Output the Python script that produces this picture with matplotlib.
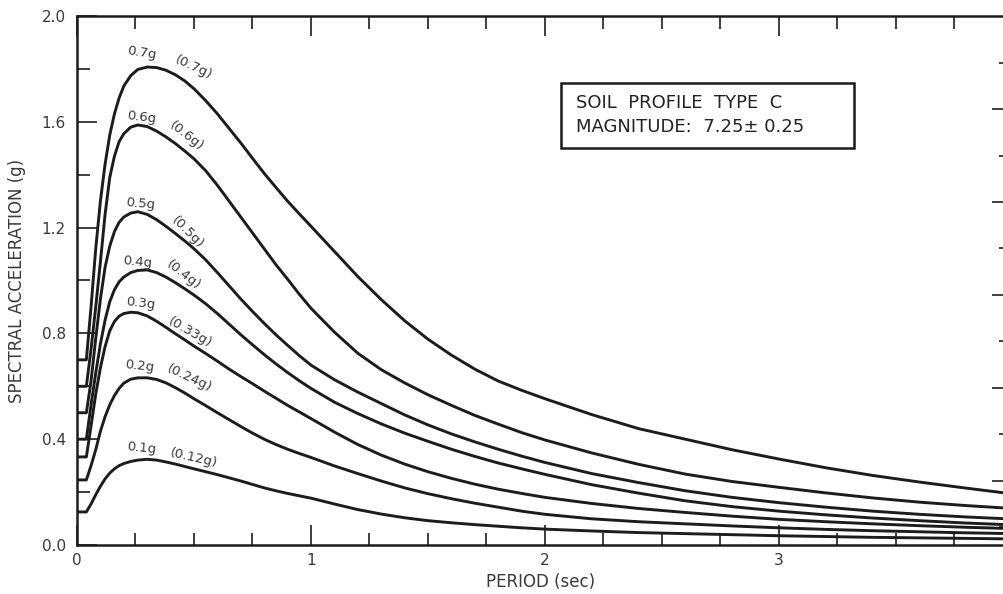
import matplotlib
matplotlib.use("Agg")
import matplotlib.pyplot as plt
from matplotlib.patches import Rectangle
from matplotlib.ticker import MultipleLocator, FixedLocator, NullFormatter

# ---------------- data ----------------
period = [0, 0.04, 0.06, 0.08, 0.1, 0.12, 0.14, 0.16, 0.18, 0.2, 0.23, 0.26, 0.3, 0.34,
          0.38, 0.42, 0.46, 0.5, 0.55, 0.6, 0.65, 0.7, 0.75, 0.8, 0.85, 0.9, 0.95, 1.0,
          1.1, 1.2, 1.3, 1.4, 1.5, 1.6, 1.7, 1.8, 1.9, 2.0, 2.2, 2.4, 2.6, 2.8, 3.0,
          3.2, 3.4, 3.6, 3.8, 4.0]

sa_070 = [0.70, 0.70, 0.90, 1.12, 1.30, 1.44, 1.55, 1.63, 1.69, 1.735, 1.775, 1.798, 1.807, 1.805,
          1.795, 1.778, 1.755, 1.725, 1.68, 1.63, 1.575, 1.52, 1.462, 1.405, 1.352, 1.30, 1.252, 1.205,
          1.11, 1.015, 0.928, 0.848, 0.778, 0.718, 0.665, 0.62, 0.585, 0.553, 0.493, 0.44, 0.40, 0.36, 0.325,
          0.292, 0.263, 0.238, 0.215, 0.193]
sa_060 = [0.60, 0.60, 0.74, 0.90, 1.07, 1.25, 1.39, 1.47, 1.525, 1.555, 1.58, 1.588, 1.582, 1.565,
          1.543, 1.518, 1.49, 1.46, 1.415, 1.36, 1.30, 1.24, 1.18, 1.12, 1.06, 1.005, 0.948, 0.895,
          0.805, 0.725, 0.663, 0.613, 0.568, 0.528, 0.49, 0.457, 0.425, 0.397, 0.348, 0.305, 0.268, 0.24, 0.218,
          0.197, 0.178, 0.162, 0.149, 0.138]
sa_050 = [0.50, 0.50, 0.62, 0.78, 0.93, 1.05, 1.13, 1.185, 1.22, 1.24, 1.255, 1.26, 1.25, 1.23,
          1.205, 1.178, 1.15, 1.12, 1.078, 1.03, 0.98, 0.93, 0.883, 0.838, 0.795, 0.755, 0.716, 0.68,
          0.625, 0.578, 0.535, 0.492, 0.454, 0.42, 0.39, 0.362, 0.336, 0.312, 0.27, 0.236, 0.205, 0.18, 0.16,
          0.143, 0.128, 0.116, 0.106, 0.098]
sa_040 = [0.40, 0.40, 0.53, 0.65, 0.76, 0.85, 0.92, 0.965, 0.995, 1.013, 1.03, 1.038, 1.04, 1.03,
          1.013, 0.992, 0.969, 0.945, 0.912, 0.875, 0.835, 0.795, 0.757, 0.72, 0.685, 0.652, 0.621, 0.592,
          0.54, 0.497, 0.458, 0.423, 0.392, 0.362, 0.335, 0.31, 0.288, 0.267, 0.228, 0.196, 0.167, 0.145, 0.128,
          0.114, 0.102, 0.092, 0.083, 0.076]
sa_033 = [0.333, 0.333, 0.45, 0.57, 0.67, 0.75, 0.81, 0.845, 0.865, 0.875, 0.88, 0.878, 0.866, 0.846,
          0.823, 0.799, 0.776, 0.752, 0.724, 0.695, 0.665, 0.637, 0.61, 0.582, 0.555, 0.528, 0.503, 0.478,
          0.427, 0.38, 0.34, 0.306, 0.277, 0.252, 0.23, 0.211, 0.195, 0.18, 0.157, 0.138, 0.123, 0.109, 0.097,
          0.088, 0.08, 0.073, 0.067, 0.062]
sa_024 = [0.246, 0.246, 0.30, 0.36, 0.43, 0.485, 0.53, 0.565, 0.592, 0.612, 0.627, 0.632, 0.632, 0.626,
          0.613, 0.595, 0.575, 0.553, 0.527, 0.50, 0.474, 0.448, 0.423, 0.40, 0.38, 0.362, 0.346, 0.331,
          0.299, 0.27, 0.242, 0.216, 0.194, 0.175, 0.158, 0.143, 0.128, 0.116, 0.099, 0.088, 0.08, 0.072, 0.065,
          0.059, 0.054, 0.05, 0.046, 0.043]
sa_012 = [0.125, 0.125, 0.155, 0.19, 0.222, 0.25, 0.272, 0.288, 0.30, 0.308, 0.316, 0.321, 0.324, 0.321,
          0.314, 0.306, 0.297, 0.288, 0.277, 0.266, 0.254, 0.242, 0.229, 0.216, 0.205, 0.195, 0.186, 0.177,
          0.155, 0.134, 0.117, 0.103, 0.092, 0.084, 0.077, 0.071, 0.065, 0.06, 0.053, 0.047, 0.043, 0.039, 0.035,
          0.032, 0.029, 0.027, 0.025, 0.023]

curves = [sa_070, sa_060, sa_050, sa_040, sa_033, sa_024, sa_012]
labels_a = ["0.7g", "0.6g", "0.5g", "0.4g", "0.3g", "0.2g", "0.1g"]
labels_b = ["(0.7g)", "(0.6g)", "(0.5g)", "(0.4g)", "(0.33g)", "(0.24g)", "(0.12g)"]

y_major = [0.0, 0.4, 0.8, 1.2, 1.6, 2.0]
y_tick_labels = ["0.0", "0.4", "0.8", "1.2", "1.6", "2.0"]
x_major = [0, 1, 2, 3, 4]
x_tick_labels = ["0", "1", "2", "3", ""]
right_long = [0.2435, 0.5945, 0.9455, 1.2965, 1.6475]
right_short = [0.068, 0.419, 0.77, 1.121, 1.472, 1.823]

box_lines = ["SOIL  PROFILE  TYPE  C", "MAGNITUDE:  7.25\u00b1 0.25"]

for c in curves:
    assert len(c) == len(period)

# ---------------- layout / style ----------------
INK = "#1c1c1c"
TXT = "#3a3a3a"

fig = plt.figure(figsize=(10.04, 5.94), dpi=100)
fig.patch.set_facecolor("white")
ax = fig.add_axes([77 / 1004, 1 - 545 / 594, 936 / 1004, 529 / 594])
ax.set_xlim(0, 4)
ax.set_ylim(0, 2.0)

for s in ax.spines.values():
    s.set_linewidth(1.8)
    s.set_color(INK)

for y in curves:
    ax.plot(period, y, color=INK, lw=2.1, solid_joinstyle="round",
            solid_capstyle="round")

# ticks
ax.xaxis.set_major_locator(FixedLocator(x_major))
ax.set_xticklabels(x_tick_labels)
ax.xaxis.set_minor_locator(MultipleLocator(0.25))
ax.yaxis.set_major_locator(FixedLocator(y_major))
ax.set_yticklabels(y_tick_labels)
ax.yaxis.set_minor_locator(MultipleLocator(0.2))
ax.tick_params(which="both", direction="in", top=True, right=False,
               color=INK, width=1.2)
ax.tick_params(which="major", length=14.5)
ax.tick_params(which="minor", length=9)
ax.tick_params(axis="x", which="major", labelsize=11, labelcolor=TXT, pad=6)
ax.tick_params(axis="y", which="major", labelsize=11, labelcolor=TXT, pad=8)

ax2 = ax.twinx()
ax2.set_ylim(0, 2.0)
ax2.yaxis.set_major_locator(FixedLocator(right_long))
ax2.yaxis.set_minor_locator(FixedLocator(right_short))
ax2.yaxis.set_major_formatter(NullFormatter())
ax2.yaxis.set_minor_formatter(NullFormatter())
ax2.tick_params(which="both", direction="in", color=INK, width=1.2)
ax2.tick_params(which="major", length=15)
ax2.tick_params(which="minor", length=10)
for s in ax2.spines.values():
    s.set_visible(False)

# axis labels
ax.set_xlabel("PERIOD (sec)", fontsize=12, color=TXT)
ax.xaxis.set_label_coords((541 - 77) / 936, (545 - 573) / 529)
ax.set_ylabel("SPECTRAL ACCELERATION (g)", fontsize=12, color=TXT)
ax.yaxis.set_label_coords((26 - 77) / 936, (545 - 281) / 529)

# curve labels
def px2d(px, py):
    return (px - 77) / 234.0, (545 - py) / 264.5

pos_a = [(142, 53), (141, 117), (140, 204), (137, 262), (141, 303), (139, 366), (141, 448)]
rot_a = [-9, -7, -5, -6, -7, -6, -6]
pos_b = [(194, 68), (186, 136), (188, 232), (183, 275), (190, 332), (189, 378), (194, 458)]
rot_b = [-25, -38, -45, -38, -30, -25, -13]
for la, lb, pa, pb, ra, rb in zip(labels_a, labels_b, pos_a, pos_b, rot_a, rot_b):
    xa, ya = px2d(*pa)
    xb, yb = px2d(*pb)
    ax.text(xa, ya, la, fontsize=9.5, color=TXT, ha="center", va="center",
            rotation=ra, rotation_mode="anchor")
    ax.text(xb, yb, lb, fontsize=9.5, color=TXT, ha="center", va="center",
            rotation=rb, rotation_mode="anchor")

# annotation box
bx0, bx1 = (561 - 77) / 936, (854 - 77) / 936
by0, by1 = (545 - 148) / 529, (545 - 83) / 529
ax.add_patch(Rectangle((bx0, by0), bx1 - bx0, by1 - by0, transform=ax.transAxes,
                       fill=False, lw=1.8, ec=INK, zorder=5))
ax.text((576 - 77) / 936, (545 - 103) / 529, box_lines[0], transform=ax.transAxes,
        fontsize=13, color="#222222", ha="left", va="center")
ax.text((576 - 77) / 936, (545 - 127) / 529, box_lines[1], transform=ax.transAxes,
        fontsize=13, color="#222222", ha="left", va="center")

fig.savefig("out.png", dpi=100)
